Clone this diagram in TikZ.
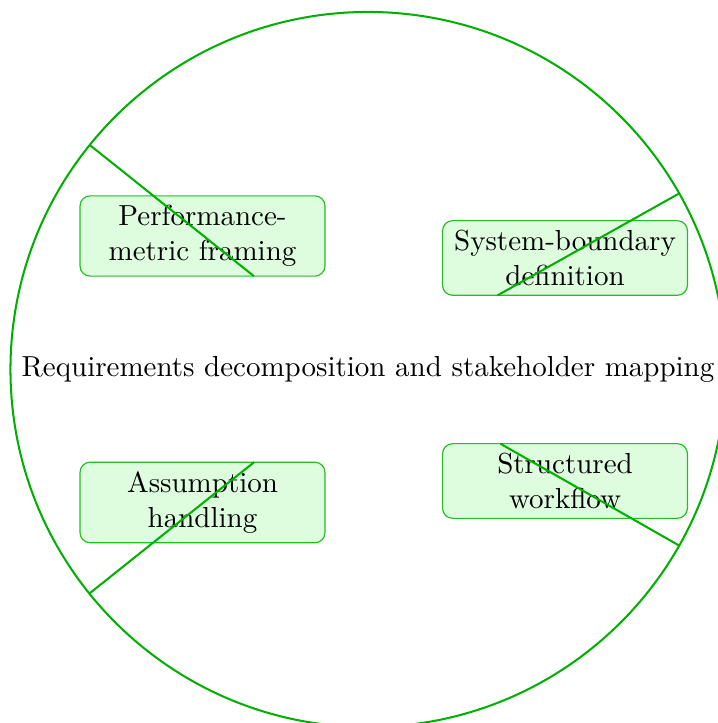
\documentclass[tikz,border=0pt]{standalone}
\usetikzlibrary{calc}
\definecolor{leaf}{RGB}{0,176,0}
\definecolor{leaffill}{RGB}{222,252,222}
\begin{document}
\begin{tikzpicture}[x=0.345pt,y=0.345pt,
  hub/.style={draw=leaf, line width=0.7pt, circle, minimum size=246.7pt, inner sep=0pt, outer sep=0pt},
  topic/.style={draw=leaf!85, fill=leaffill, line width=0.4pt, rounded corners=3.5pt,
                align=center, minimum width=84.5pt, inner sep=3.3pt, outer sep=0pt},
  spoke/.style={draw=leaf, line width=0.7pt}]
  \useasboundingbox (-368,-353.5) rectangle (349,369.5);
  % central circle carrying the main theme
  \node[hub] (hub) at (0,0) {Requirements decomposition and stakeholder mapping};
  % four topic boxes
  \node[topic] (perf) at (-165.5,133.5) {Performance-\\metric framing};
  \node[topic] (sysb) at (197,111.5) {System-boundary\\definition};
  \node[topic] (assu) at (-165.5,-133) {Assumption\\handling};
  \node[topic] (flow) at (197,-111.5) {Structured\\workflow};
  % points on the rim where the spokes start
  \coordinate (rimA) at ($(hub.center)+(141.1:357.5)$);
  \coordinate (rimB) at ($(hub.center)+(29.5:357.5)$);
  \coordinate (rimC) at ($(hub.center)+(218.8:357.5)$);
  \coordinate (rimD) at ($(hub.center)+(-29.5:357.5)$);
  % radial spokes from the rim through each box
  \draw[spoke] (rimA) -- (perf.-38.9);
  \draw[spoke] (rimB) -- (sysb.209.5);
  \draw[spoke] (rimC) -- (assu.38.8);
  \draw[spoke] (rimD) -- (flow.150.5);
\end{tikzpicture}
\end{document}
